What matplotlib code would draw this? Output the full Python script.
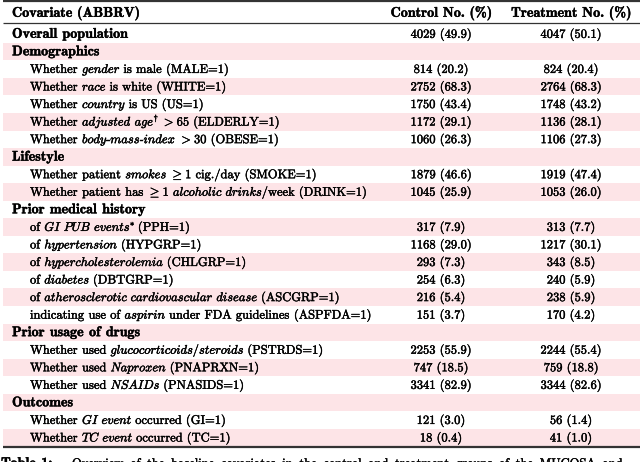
import re

import matplotlib.pyplot as plt
import matplotlib.patheffects as pe
from matplotlib.patches import Rectangle

plt.rcParams["mathtext.fontset"] = "cm"
plt.rcParams["font.family"] = "cmr10"

header = ["Covariate (ABBRV)", "Control No. (%)", "Treatment No. (%)"]

# _..._ = italic words, $...$ = math symbols
row_labels = [
    "Overall population",
    "Demographics",
    "Whether _gender_ is male (MALE=1)",
    "Whether _race_ is white (WHITE=1)",
    "Whether _country_ is US (US=1)",
    r"Whether _adjusted age_$^{\dagger}$ $>$ 65 (ELDERLY=1)",
    "Whether _body_-_mass_-_index_ $>$ 30 (OBESE=1)",
    "Lifestyle",
    r"Whether patient _smokes_ $\geq$ 1 cig./day (SMOKE=1)",
    r"Whether patient has $\geq$ 1 _alcoholic drinks_/week (DRINK=1)",
    "Prior medical history",
    "of _GI PUB events_$^{*}$ (PPH=1)",
    "of _hypertension_ (HYPGRP=1)",
    "of _hypercholesterolemia_ (CHLGRP=1)",
    "of _diabetes_ (DBTGRP=1)",
    "of _atherosclerotic cardiovascular disease_ (ASCGRP=1)",
    "indicating use of _aspirin_ under FDA guidelines (ASPFDA=1)",
    "Prior usage of drugs",
    "Whether used _glucocorticoids_/_steroids_ (PSTRDS=1)",
    "Whether used _Naproxen_ (PNAPRXN=1)",
    "Whether used _NSAIDs_ (PNASIDS=1)",
    "Outcomes",
    "Whether _GI event_ occurred (GI=1)",
    "Whether _TC event_ occurred (TC=1)",
]
row_bold = [True, True, False, False, False, False, False, True, False, False,
            True, False, False, False, False, False, False, True, False, False,
            False, True, False, False]

ctrl_n = [4029, None, 814, 2752, 1750, 1172, 1060, None, 1879, 1045, None,
          317, 1168, 293, 254, 216, 151, None, 2253, 747, 3341, None, 121, 18]
ctrl_pct = [49.9, None, 20.2, 68.3, 43.4, 29.1, 26.3, None, 46.6, 25.9, None,
            7.9, 29.0, 7.3, 6.3, 5.4, 3.7, None, 55.9, 18.5, 82.9, None, 3.0, 0.4]
trt_n = [4047, None, 824, 2764, 1748, 1136, 1106, None, 1919, 1053, None,
         313, 1217, 343, 240, 238, 170, None, 2244, 759, 3344, None, 56, 41]
trt_pct = [50.1, None, 20.4, 68.3, 43.2, 28.1, 27.3, None, 47.4, 26.0, None,
           7.7, 30.1, 8.5, 5.9, 5.9, 4.2, None, 55.4, 18.8, 82.6, None, 1.4, 1.0]

caption_label = "Table 1:"
caption = "Overview of the baseline covariates in the control and treatment groups of the MUCOSA and"

W, H = 640, 462
fs = 9.0
fs_bold = 10.15  # cmb10 is narrower than LaTeX's cmbx10, so scale it up
em = fs * 100 / 72
pink = "#fde4e7"
rule = "#333333"
row0, step = 34.0, 17.55
x_left, x_indent = 12, 30
x_ctrl, x_trt = 441, 571
families = {"rm": "cmr10", "bf": "cmb10", "it": "cmmi10"}
ink = [pe.withStroke(linewidth=0.3, foreground="black")]

fig = plt.figure(figsize=(W / 100, H / 100), dpi=100)
ax = fig.add_axes([0, 0, 1, 1])
ax.set_xlim(0, W)
ax.set_ylim(H, 0)
ax.axis("off")
renderer = fig.canvas.get_renderer()


def draw_rich(x, y, s, base="rm", space=None):
    """Draw a label word by word so upright, italic and math parts share a baseline."""
    if space is None:
        space = 0.383 * em * fs_bold / fs if base == "bf" else 0.333 * em
    for run in re.split(r"(_[^_]*_|\$[^$]*\$)", s):
        if not run:
            continue
        if run.startswith("$"):
            t = ax.text(x, y, run, fontsize=fs, va="baseline", path_effects=ink)
            x += t.get_window_extent(renderer).width - 2
            continue
        style = base
        if run.startswith("_"):
            style, run = "it", run[1:-1]
        size = fs_bold if style == "bf" else fs
        for j, word in enumerate(run.split(" ")):
            if j > 0:
                x += space
            if word:
                t = ax.text(x, y, word, fontsize=size, family=families[style],
                            va="baseline", path_effects=ink)
                x += t.get_window_extent(renderer).width
    return x


for i, label in enumerate(row_labels):
    yc = row0 + i * step
    base = yc + 3.8
    if i % 2 == 1:
        ax.add_patch(Rectangle((3, yc - step / 2), W - 3, step,
                               facecolor=pink, edgecolor="none", zorder=0))
    if row_bold[i]:
        draw_rich(x_left, base, label, base="bf")
    else:
        draw_rich(x_indent, base, label)
    if ctrl_n[i] is not None:
        ax.text(x_ctrl, base, f"{ctrl_n[i]} ({ctrl_pct[i]:.1f})", fontsize=fs,
                ha="center", va="baseline", path_effects=ink)
        ax.text(x_trt, base, f"{trt_n[i]} ({trt_pct[i]:.1f})", fontsize=fs,
                ha="center", va="baseline", path_effects=ink)

# header
hb = 13 + 3.8
for x, txt, ha in [(x_left, header[0], "left"), (x_ctrl, header[1], "center"),
                   (x_trt, header[2], "center")]:
    ax.text(x, hb, txt, fontsize=fs_bold, family="cmb10", ha=ha, va="baseline",
            path_effects=ink)

# rules
ax.plot([3, W], [1.2, 1.2], color=rule, lw=1.6, solid_capstyle="butt")
ax.plot([3, W], [23, 23], color=rule, lw=0.9, solid_capstyle="butt")
y_bot = row0 + (len(row_labels) - 0.5) * step + 1
ax.plot([3, W], [y_bot, y_bot], color=rule, lw=1.6, solid_capstyle="butt")

# caption, cut by the lower figure edge
draw_rich(1, 467, caption_label, base="bf")
draw_rich(72, 467, caption, space=6.6)

fig.savefig("out.png", dpi=100)
